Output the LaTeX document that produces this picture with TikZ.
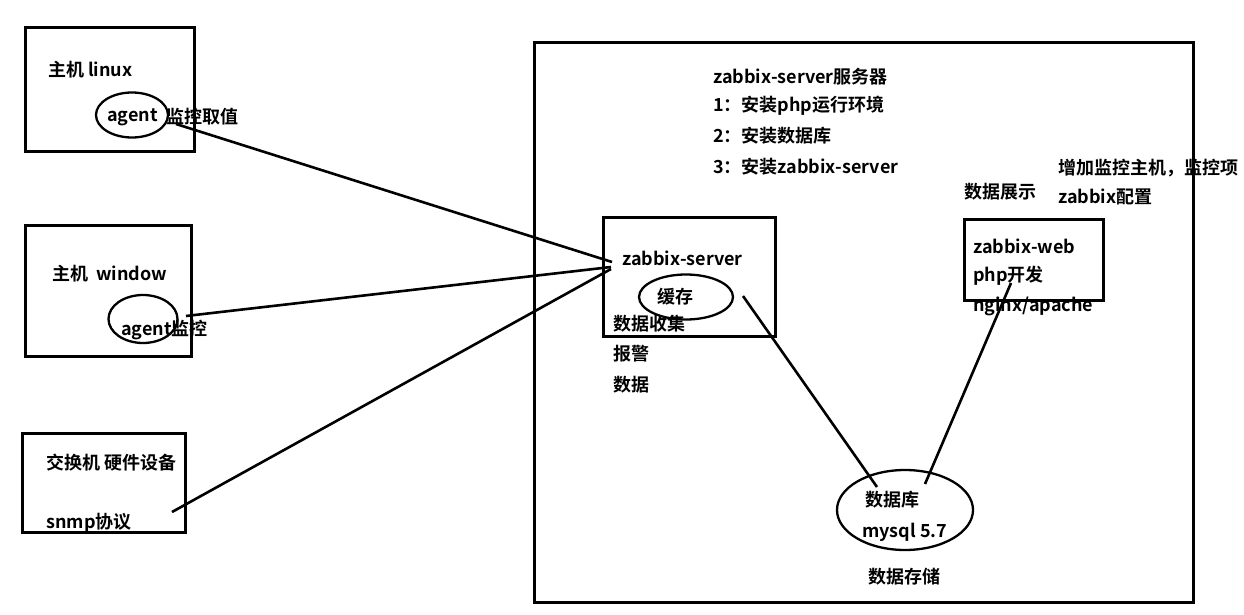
\documentclass[tikz,border=0pt]{standalone}
\usepackage{fontspec}
\setmainfont{Noto Sans CJK SC}[BoldFont={* Bold}]
\usetikzlibrary{shapes.geometric}

\begin{document}
\begin{tikzpicture}[x=1pt,y=-1pt,
	box/.style={draw,line width=3pt},
	oval/.style={draw,ellipse,line width=2.3pt,inner sep=0pt},
	txt/.style={anchor=west,inner sep=0pt,font=\fontsize{18}{20}\selectfont\bfseries},
	link/.style={line width=2.6pt}]
	\useasboundingbox (0,0) rectangle (1244,615);

	% hosts
	\draw[box] (25,28) rectangle (194,151);
	\node[txt] (linux) at (48,70) {主机 linux};
	\node[oval,minimum width=72pt,minimum height=45pt] (agentA) at (132,115) {};
	\node[txt] (agentt) at (107,117) {agent};
	\node[txt] (getval) at (166,117) {监控取值};

	\draw[box] (25,225) rectangle (191,356);
	\node[txt] (win) at (52,274) {主机\ \ window};
	\node[oval,minimum width=69pt,minimum height=48pt] (agentB) at (143,319) {};
	\node[txt] (mon) at (121,330) {agent监控};

	\draw[box] (22,433) rectangle (185,532);
	\node[txt] (switch) at (46,463) {交换机 硬件设备};
	\node[txt] (snmp) at (46,523) {snmp协议};

	% zabbix server machine
	\draw[box] (534,43) rectangle (1193,602);
	\node[txt] (title) at (713,77) {zabbix-server服务器};
	\node[txt] (st1) at (713,106) {1：安装php运行环境};
	\node[txt] (st2) at (713,136) {2：安装数据库};
	\node[txt] (st3) at (713,167) {3：安装zabbix-server};

	\draw[box] (603,217) rectangle (775,336);
	\node[txt] (srv) at (622,258) {zabbix-server};
	\node[oval,minimum width=94pt,minimum height=45pt] (cache) at (686,297) {};
	\node[txt] (cachet) at (657,297) {缓存};
	\node[txt] (collect) at (613,324) {数据收集};
	\node[txt] (alarm) at (613,354) {报警};
	\node[txt] (data) at (613,385) {数据};

	\node[txt] (show) at (964,192) {数据展示};
	\node[txt] (addhost) at (1058,168) {增加监控主机，监控项};
	\node[txt] (conf) at (1058,197) {zabbix配置};
	\draw[box] (964,219) rectangle (1103,300);
	\node[txt] (web) at (973,246) {zabbix-web};
	\node[txt] (php) at (973,276) {php开发};
	\node[txt] (nginx) at (973,306) {nginx/apache};

	\node[oval,minimum width=136pt,minimum height=80pt] (db) at (905,510) {};
	\node[txt] (dbt) at (865,500) {数据库};
	\node[txt] (mysql) at (862,532) {mysql 5.7};
	\node[txt] (store) at (868,577) {数据存储};

	% connectors
	\coordinate (inA) at (612,262);
	\coordinate (inB) at (611,267);
	\coordinate (inC) at (611,269);
	\coordinate (outA) at (176,124);
	\coordinate (outB) at (186,316);
	\coordinate (outC) at (172,512);
	\coordinate (cacheout) at (743,296);
	\coordinate (dbin) at (877,487);
	\coordinate (dbout) at (925,484);
	\coordinate (webin) at (1011,283);

	\draw[link] (outA)--(inA);
	\draw[link] (outB)--(inB);
	\draw[link] (outC)--(inC);
	\draw[link] (cacheout)--(dbin);
	\draw[link] (dbout)--(webin);

\end{tikzpicture}
\end{document}
